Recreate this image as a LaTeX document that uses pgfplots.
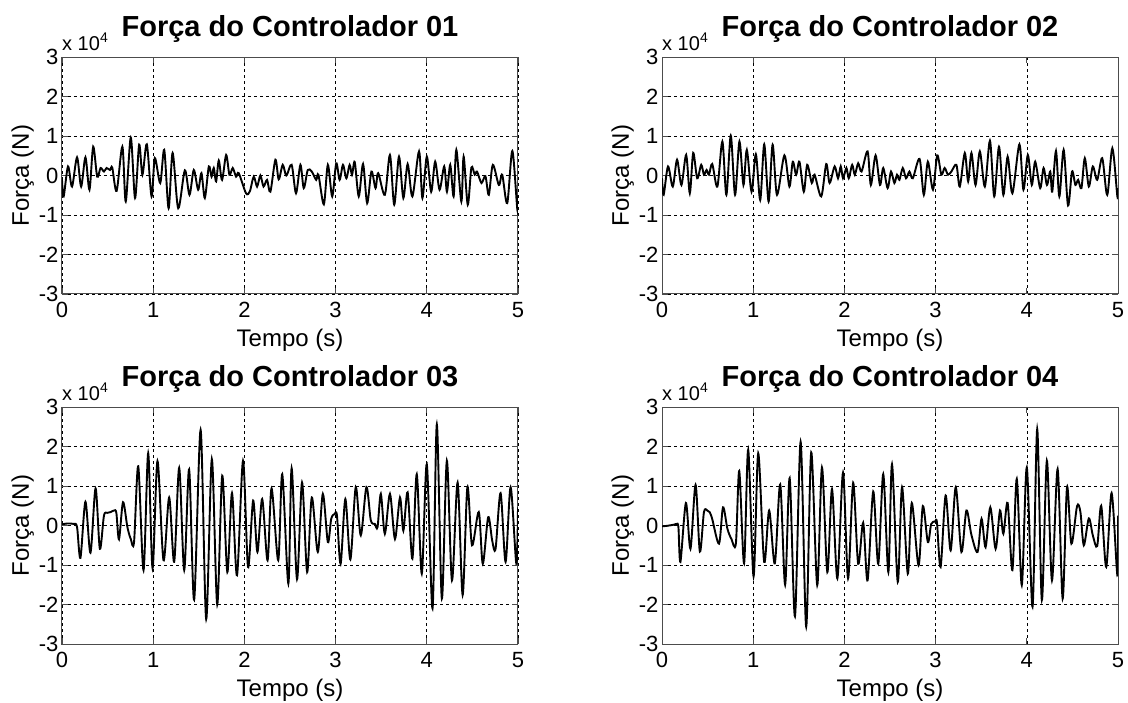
\documentclass[border=0pt]{standalone}
\usepackage{fontspec}
\setmainfont{Liberation Sans}
\usepackage{pgfplots}
\pgfplotsset{compat=1.18}

\pgfplotsset{mlab/.style={
    scale only axis, width=456pt, height=237pt,
    xmin=0, xmax=5, ymin=-3, ymax=3,
    xtick={0,1,2,3,4,5}, ytick={-3,-2,-1,0,1,2,3},
    tick align=inside, major tick length=6pt,
    xmajorgrids, ymajorgrids,
    major grid style={black, line width=0.6pt, dash pattern=on 3pt off 3pt},
    axis line style={black!70, line width=1pt},
    tick style={black!70, line width=0.8pt},
    ticklabel style={font=\fontsize{22}{24}\selectfont},
    xticklabel style={yshift=-5pt},
    /pgf/number format/assume math mode=true,
    xlabel={Tempo (s)}, ylabel={Força (N)},
    label style={font=\fontsize{24}{26}\selectfont},
    xlabel style={yshift=-4pt},
    ylabel style={yshift=-2pt},
    title style={font=\fontsize{29}{31}\selectfont\bfseries, at={(0.5,1)}, anchor=base, yshift=15pt},
    clip mode=individual,
  },
  trace/.style={black, line width=1.9pt, smooth, tension=0.5, mark=none}}
\newcommand{\expnode}{\node[anchor=base west, inner sep=0pt, font=\fontsize{20}{22}\selectfont] at ([yshift=7pt]rel axis cs:0,1) {x 10\textsuperscript{4}};}

\begin{document}
\begin{tikzpicture}
\useasboundingbox (0,0) rectangle (1128pt,702pt);

% controlador 01
\begin{axis}[mlab, at={(62pt,408pt)}, anchor=south west, title={Força do Controlador 01}]
\addplot[trace] coordinates {
(0,-0.1) (0.018,-0.53) (0.066,0.23) (0.11,-0.28) (0.165,0.46) (0.21,-0.28) (0.257,0.46)
(0.301,-0.36) (0.342,0.73) (0.386,-0.03) (0.423,0.19) (0.46,0.1) (0.489,0.19) (0.526,0.14)
(0.551,0.2) (0.599,-0.39) (0.662,0.73) (0.699,-0.66) (0.754,0.96) (0.801,-0.57) (0.846,0.78)
(0.882,0.02) (0.93,0.79) (0.982,-0.53) (1.018,0.44) (1.077,-0.19) (1.121,0.65) (1.169,-0.83)
(1.213,0.57) (1.274,-0.83) (1.347,0.13) (1.398,-0.49) (1.445,0.14) (1.493,-0.36) (1.529,0.06)
(1.566,-0.57) (1.61,0.23) (1.64,-0.03) (1.664,0.19) (1.69,-0.15) (1.719,0.38) (1.755,-0.11)
(1.8,0.52) (1.836,0.02) (1.872,0.19) (1.909,-0.03) (1.938,0.06) (2.018,-0.45) (2.06,-0.4)
(2.102,-0.03) (2.139,-0.28) (2.175,0.0) (2.21,-0.28) (2.248,-0.11) (2.285,-0.41) (2.34,0.4)
(2.376,-0.1) (2.42,0.27) (2.46,0.0) (2.518,0.27) (2.566,-0.45) (2.614,0.27) (2.651,-0.32)
(2.695,0.14) (2.739,0.1) (2.787,-0.11) (2.812,0.02) (2.871,-0.73) (2.915,0.27) (2.963,-0.53)
(3.007,0.31) (3.044,-0.11) (3.081,0.27) (3.118,-0.07) (3.154,0.27) (3.18,0.02) (3.21,0.34)
(3.254,-0.53) (3.301,0.29) (3.346,-0.7) (3.393,0.1) (3.438,-0.32) (3.467,0.06) (3.54,-0.49)
(3.596,0.52) (3.643,-0.74) (3.695,0.48) (3.743,-0.57) (3.79,0.29) (3.842,-0.53) (3.915,0.61)
(3.952,-0.57) (4.0,0.48) (4.048,-0.41) (4.092,0.35) (4.14,-0.36) (4.191,0.23) (4.221,-0.41)
(4.257,0.27) (4.294,-0.53) (4.324,0.65) (4.379,-0.66) (4.404,0.48) (4.449,-0.74) (4.489,0.2)
(4.526,0.02) (4.551,0.1) (4.599,-0.19) (4.643,-0.02) (4.68,-0.49) (4.724,0.27) (4.79,-0.24)
(4.827,0.02) (4.882,-0.7) (4.938,0.62) (4.993,-0.87) (5.0,-0.5)
};
\expnode
\end{axis}

% controlador 02
\begin{axis}[mlab, at={(662pt,408pt)}, anchor=south west, title={Força do Controlador 02}]
\addplot[trace] coordinates {
(0,-0.07) (0.018,-0.49) (0.066,0.23) (0.118,-0.28) (0.165,0.4) (0.213,-0.24) (0.265,0.52)
(0.305,-0.45) (0.342,0.57) (0.386,-0.07) (0.43,0.27) (0.46,0.02) (0.489,0.14) (0.515,0.02)
(0.551,0.29) (0.607,-0.28) (0.662,0.86) (0.706,-0.49) (0.754,1.01) (0.801,-0.49) (0.849,0.86)
(0.893,-0.24) (0.93,0.65) (0.982,-0.41) (1.029,0.54) (1.077,-0.62) (1.121,0.79) (1.169,-0.66)
(1.213,0.78) (1.261,-0.49) (1.342,0.51) (1.397,-0.28) (1.434,0.35) (1.471,0.02) (1.507,0.35)
(1.555,-0.41) (1.592,0.27) (1.643,-0.19) (1.673,0.02) (1.746,-0.53) (1.801,0.29) (1.838,-0.19)
(1.893,0.23) (1.93,-0.07) (1.96,0.23) (1.985,-0.07) (2.022,0.19) (2.048,-0.07) (2.085,0.27)
(2.114,0.02) (2.151,0.31) (2.188,0.1) (2.254,0.61) (2.29,-0.24) (2.342,0.51) (2.39,-0.24)
(2.426,0.19) (2.474,-0.32) (2.511,0.1) (2.548,-0.19) (2.577,0.02) (2.603,-0.11) (2.64,0.19)
(2.676,-0.07) (2.713,0.1) (2.75,-0.07) (2.824,0.42) (2.871,-0.49) (2.915,0.35) (2.971,-0.36)
(3.018,0.51) (3.063,0.02) (3.099,0.19) (3.136,0.02) (3.173,0.1) (3.228,0.27) (3.265,-0.28)
(3.32,0.57) (3.357,-0.15) (3.393,0.57) (3.438,-0.24) (3.485,0.61) (3.54,-0.28) (3.596,0.88)
(3.643,-0.53) (3.695,0.73) (3.743,-0.49) (3.79,0.48) (3.842,-0.45) (3.919,0.79) (3.963,-0.36)
(4.011,0.52) (4.055,-0.24) (4.092,0.35) (4.147,-0.32) (4.184,0.19) (4.221,-0.24) (4.257,0.1)
(4.279,-0.41) (4.32,0.62) (4.357,-0.53) (4.404,0.65) (4.452,-0.76) (4.496,0.1) (4.533,-0.24)
(4.563,-0.11) (4.599,-0.32) (4.636,0.44) (4.68,-0.28) (4.724,0.23) (4.772,-0.11) (4.827,0.44)
(4.882,-0.49) (4.938,0.69) (4.993,-0.53) (5.0,-0.32)
};
\expnode
\end{axis}

% controlador 03
\begin{axis}[mlab, at={(62pt,58pt)}, anchor=south west, title={Força do Controlador 03}]
\addplot[trace] coordinates {
(0,0.03) (0.055,0.05) (0.129,0.04) (0.165,-0.04) (0.202,-0.82) (0.257,0.6) (0.312,-0.69)
(0.368,0.94) (0.415,-0.59) (0.46,0.25) (0.496,0.32) (0.533,0.34) (0.57,0.38) (0.596,0.32)
(0.625,-0.35) (0.669,0.59) (0.717,-0.04) (0.754,-0.34) (0.79,-0.42) (0.836,1.5) (0.894,-1.13)
(0.945,1.83) (0.993,-1.08) (1.047,1.63) (1.113,-0.88) (1.175,0.71) (1.23,-0.92) (1.285,1.46)
(1.34,-1.13) (1.394,1.42) (1.449,-1.88) (1.52,2.42) (1.581,-2.37) (1.643,1.68) (1.702,-2.0)
(1.757,1.26) (1.813,-1.18) (1.864,0.82) (1.919,-1.26) (1.985,1.64) (2.04,-1.05) (2.096,0.63)
(2.143,-0.67) (2.195,0.67) (2.254,-0.88) (2.298,0.94) (2.371,-0.88) (2.415,1.3) (2.482,-1.47)
(2.518,1.45) (2.577,-1.36) (2.632,1.09) (2.688,-1.18) (2.739,0.71) (2.805,-0.67) (2.86,0.8)
(2.915,-0.42) (2.952,0.17) (2.989,0.29) (3.015,0.25) (3.055,-0.97) (3.107,0.67) (3.162,-0.86)
(3.221,0.97) (3.276,-0.25) (3.338,0.97) (3.386,0.13) (3.43,0.04) (3.46,-0.04) (3.496,0.8)
(3.54,-0.21) (3.596,0.8) (3.651,-0.34) (3.706,0.71) (3.743,-0.13) (3.79,0.84) (3.842,-0.84)
(3.89,1.3) (3.945,-1.22) (4.0,1.55) (4.063,-2.1) (4.11,2.56) (4.165,-1.85) (4.22,1.64)
(4.276,-1.39) (4.338,1.09) (4.393,-1.76) (4.445,0.97) (4.496,-0.5) (4.57,0.34) (4.614,-0.97)
(4.673,0.21) (4.717,-0.38) (4.754,-0.59) (4.809,0.82) (4.864,-0.92) (4.919,0.97) (4.982,-0.97)
(5.0,0.46)
};
\expnode
\end{axis}

% controlador 04
\begin{axis}[mlab, at={(662pt,58pt)}, anchor=south west, title={Força do Controlador 04}]
\addplot[trace] coordinates {
(0,-0.02) (0.05,-0.01) (0.13,0.02) (0.16,0.04) (0.18,-0.04) (0.202,-0.92) (0.262,0.57)
(0.312,-0.59) (0.368,1.03) (0.415,-0.66) (0.46,0.34) (0.496,0.38) (0.522,0.34) (0.55,0.17)
(0.625,-0.46) (0.669,0.46) (0.717,-0.08) (0.761,-0.34) (0.81,-0.46) (0.847,1.38) (0.9,-0.96)
(0.945,1.92) (1.004,-1.29) (1.055,1.83) (1.12,-0.92) (1.175,0.38) (1.237,-0.96) (1.296,1.04)
(1.35,-1.5) (1.4,1.2) (1.458,-2.3) (1.52,2.12) (1.581,-2.56) (1.636,1.85) (1.702,-1.51)
(1.754,1.47) (1.813,-1.18) (1.864,0.92) (1.923,-1.34) (1.985,1.34) (2.04,-1.34) (2.096,1.08)
(2.151,-0.97) (2.206,0.07) (2.254,-1.39) (2.316,0.86) (2.371,-0.97) (2.426,1.3) (2.482,-1.18)
(2.522,1.55) (2.585,-1.43) (2.632,0.97) (2.695,-1.22) (2.739,0.57) (2.813,-1.01) (2.86,0.49)
(2.915,-0.42) (2.952,0.04) (2.996,0.1) (3.015,0.07) (3.055,-1.05) (3.11,0.76) (3.165,-0.63)
(3.221,0.97) (3.283,-0.67) (3.338,0.38) (3.393,-0.24) (3.46,-0.67) (3.504,0.17) (3.548,-0.55)
(3.6,0.46) (3.658,-0.59) (3.706,0.38) (3.743,-0.21) (3.79,0.57) (3.842,-1.13) (3.89,1.18)
(3.945,-1.51) (4.0,1.47) (4.063,-2.06) (4.114,2.44) (4.165,-1.89) (4.22,1.64) (4.276,-1.39)
(4.338,1.43) (4.393,-1.85) (4.441,0.97) (4.489,-0.46) (4.551,0.49) (4.588,0.34) (4.625,-0.5)
(4.68,0.18) (4.724,-0.25) (4.772,-0.52) (4.816,0.5) (4.871,-1.05) (4.93,0.82) (4.993,-1.26)
(5.0,0.25)
};
\expnode
\end{axis}
\end{tikzpicture}
\end{document}
